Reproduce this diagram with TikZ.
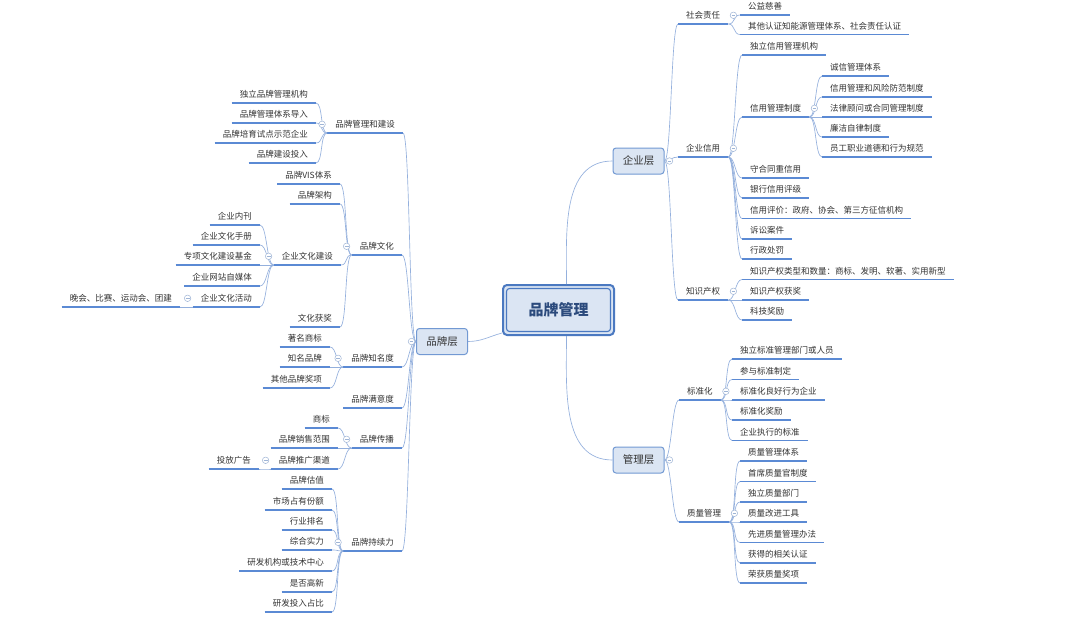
\documentclass[tikz,border=0pt]{standalone}
\usepackage{fontspec}
\newfontfamily\cjk{Noto Sans CJK SC}
\definecolor{txt}{HTML}{333333}
\definecolor{ul}{HTML}{5B8AD4}
\definecolor{cn}{HTML}{94B0DD}
\definecolor{boxfill}{HTML}{DBE5F3}
\definecolor{boxline}{HTML}{7299D3}
\definecolor{rootline}{HTML}{4B79C1}
\definecolor{roottext}{HTML}{2B4A7C}
\definecolor{fc}{HTML}{9FB5D6}
\tikzset{
  uline/.style={draw=ul, line width=1.5pt},
  conn/.style={draw=cn, line width=0.65pt},
  lf/.style={font=\cjk\fontsize{8.5}{10}\selectfont, text=txt, inner xsep=8pt, inner ysep=0pt,
    minimum height=17pt,
    append after command={(\tikzlastnode.south west) edge[uline] (\tikzlastnode.south east)}},
  R/.style={lf, anchor=south west},
  L/.style={lf, anchor=south east},
  layer/.style={font=\cjk\fontsize{10.5}{12}\selectfont, text=txt, draw=boxline, fill=boxfill,
    line width=1pt, rounded corners=3pt, minimum width=51pt, minimum height=26pt, inner sep=0pt},
  rootbox/.style={font=\cjk\bfseries\fontsize{15}{17}\selectfont, text=roottext, draw=rootline, fill=boxfill,
    line width=2pt, rounded corners=4pt, minimum width=111pt, minimum height=50pt, inner sep=0pt},
  fold/.style={circle, draw=fc, fill=white, line width=0.5pt, minimum size=6.5pt, inner sep=0pt,
    path picture={\draw[fc, line width=0.5pt] ([xshift=-1.9pt]path picture bounding box.center) -- ([xshift=1.9pt]path picture bounding box.center);}}
}
\newcommand\cR[2]{\draw[conn] (#1) .. controls +(7,0) and +(-7,0) .. (#2);}
\newcommand\cL[2]{\draw[conn] (#1) .. controls +(-7,0) and +(7,0) .. (#2);}
\begin{document}
\begin{tikzpicture}[x=1pt,y=-1pt]
\useasboundingbox[fill=white] (0,0) rectangle (1080,618);

% root and layers
\node[rootbox] (root) at (558.5,310) {品牌管理};
\draw[rootline, line width=1.1pt, rounded corners=3pt]
  ([shift={(4.5pt,4.5pt)}]root.south west) rectangle ([shift={(-4.5pt,-4.5pt)}]root.north east);
\node[layer] (qy) at (638.5,161) {企业层};
\node[layer] (gl) at (638.5,460) {管理层};
\node[layer] (pp) at (442,341.5) {品牌层};

% ---------- 企业层 ----------
\node[R] (shzr) at (678,24) {社会责任};
\node[R] (qyxy) at (678,157) {企业信用};
\node[R] (zscq) at (678,300) {知识产权};
\node[R] (gycs) at (740,15) {公益慈善};
\node[R] (qtrz) at (740,34.5) {其他认证知能源管理体系、社会责任认证};
\node[R] (dlxy) at (742,55) {独立信用管理机构};
\node[R] (xyzd) at (742,117) {信用管理制度};
\node[R] (cxtx) at (822,76) {诚信管理体系};
\node[R] (fxff) at (822,97) {信用管理和风险防范制度};
\node[R] (flgw) at (822,117) {法律顾问或合同管理制度};
\node[R] (ljzl) at (822,137) {廉洁自律制度};
\node[R] (ygdd) at (822,157) {员工职业道德和行为规范};
\node[R] (shty) at (742,178) {守合同重信用};
\node[R] (yhpj) at (742,198) {银行信用评级};
\node[R] (xypj) at (742,218.5) {信用评价：政府、协会、第三方征信机构};
\node[R] (ssaj) at (742,239) {诉讼案件};
\node[R] (xzcf) at (742,259) {行政处罚};
\node[R] (zslx) at (742,279.5) {知识产权类型和数量：商标、发明、软著、实用新型};
\node[R] (zshj) at (742,300) {知识产权获奖};
\node[R] (kjjl) at (742,320) {科技奖励};

% ---------- 管理层 ----------
\node[R] (bzh) at (679,400) {标准化};
\node[R] (zlgl) at (679,522) {质量管理};
\node[R] (b1) at (732,359) {独立标准管理部门或人员};
\node[R] (b2) at (732,379.5) {参与标准制定};
\node[R] (b3) at (732,400) {标准化良好行为企业};
\node[R] (b4) at (732,420) {标准化奖励};
\node[R] (b5) at (732,440.5) {企业执行的标准};
\node[R] (z1) at (740,461) {质量管理体系};
\node[R] (z2) at (740,481.5) {首席质量官制度};
\node[R] (z3) at (740,502) {独立质量部门};
\node[R] (z4) at (740,522) {质量改进工具};
\node[R] (z5) at (740,542.5) {先进质量管理办法};
\node[R] (z6) at (740,563) {获得的相关认证};
\node[R] (z7) at (740,583) {荣获质量奖项};

% ---------- 品牌层 ----------
\node[L] (ppjs) at (403,133) {品牌管理和建设};
\node[L] (ppwh) at (402,255) {品牌文化};
\node[L] (zmd) at (402,367) {品牌知名度};
\node[L] (myd) at (402,408) {品牌满意度};
\node[L] (ppcb) at (402,448) {品牌传播};
\node[L] (cxl) at (402,551) {品牌持续力};

\node[L] (j1) at (316,103) {独立品牌管理机构};
\node[L] (j2) at (316,123) {品牌管理体系导入};
\node[L] (j3) at (316,143) {品牌培育试点示范企业};
\node[L] (j4) at (316,163) {品牌建设投入};

\node[L] (vis) at (340,184) {品牌VIS体系};
\node[L] (jg) at (340,204) {品牌架构};
\node[L] (qywh) at (341,265) {企业文化建设};
\node[L] (whhj) at (340,327) {文化获奖};
\node[L] (w1) at (260,225) {企业内刊};
\node[L] (w2) at (260,245) {企业文化手册};
\node[L] (w3) at (260,265) {专项文化建设基金};
\node[L] (w4) at (260,286) {企业网站自媒体};
\node[L] (hd) at (260,307) {企业文化活动};
\node[L] (wh) at (180,307) {晚会、比赛、运动会、团建};

\node[L] (m1) at (330,347) {著名商标};
\node[L] (m2) at (330,367) {知名品牌};
\node[L] (m3) at (330,388) {其他品牌奖项};

\node[L] (c1) at (338,428) {商标};
\node[L] (c2) at (338,448) {品牌销售范围};
\node[L] (tg) at (338,469) {品牌推广渠道};
\node[L] (tf) at (259,469) {投放广告};

\node[L] (s1) at (332,489) {品牌估值};
\node[L] (s2) at (332,510) {市场占有份额};
\node[L] (s3) at (332,530) {行业排名};
\node[L] (s4) at (332,550) {综合实力};
\node[L] (s5) at (332,571) {研发机构或技术中心};
\node[L] (s6) at (332,592) {是否高新};
\node[L] (s7) at (332,612) {研发投入占比};

% ---------- connectors ----------
\draw[conn] ([xshift=8pt]root.north) to[out=90,in=180] (qy.west);
\draw[conn] ([xshift=8pt]root.south) to[out=-90,in=180] (gl.west);
\draw[conn] (pp.east) to[out=0,in=195] ([yshift=3pt]root.south west);

\foreach \c in {shzr,qyxy,zscq} {\cR{qy.east}{\c.south west}}
\foreach \c in {gycs,qtrz} {\cR{shzr.south east}{\c.south west}}
\foreach \c in {dlxy,xyzd,shty,yhpj,xypj,ssaj,xzcf} {\cR{qyxy.south east}{\c.south west}}
\foreach \c in {cxtx,fxff,flgw,ljzl,ygdd} {\cR{xyzd.south east}{\c.south west}}
\foreach \c in {zslx,zshj,kjjl} {\cR{zscq.south east}{\c.south west}}
\foreach \c in {bzh,zlgl} {\cR{gl.east}{\c.south west}}
\foreach \c in {b1,b2,b3,b4,b5} {\cR{bzh.south east}{\c.south west}}
\foreach \c in {z1,z2,z3,z4,z5,z6,z7} {\cR{zlgl.south east}{\c.south west}}

\foreach \c in {ppjs,ppwh,zmd,myd,ppcb,cxl} {\cL{pp.west}{\c.south east}}
\foreach \c in {j1,j2,j3,j4} {\cL{ppjs.south west}{\c.south east}}
\foreach \c in {vis,jg,qywh,whhj} {\cL{ppwh.south west}{\c.south east}}
\foreach \c in {w1,w2,w3,w4,hd} {\cL{qywh.south west}{\c.south east}}
\cL{hd.south west}{wh.south east}
\foreach \c in {m1,m2,m3} {\cL{zmd.south west}{\c.south east}}
\foreach \c in {c1,c2,tg} {\cL{ppcb.south west}{\c.south east}}
\cL{tg.south west}{tf.south east}
\foreach \c in {s1,s2,s3,s4,s5,s6,s7} {\cL{cxl.south west}{\c.south east}}

% ---------- fold markers ----------
\node[fold] (fqy) at ([xshift=5pt]qy.east) {};
\node[fold] (fgl) at ([xshift=5pt]gl.east) {};
\node[fold] (fpp) at ([xshift=-4.5pt]pp.west) {};
\foreach \n in {shzr,qyxy,zscq,xyzd,bzh,zlgl} {\node[fold] (f\n) at ([xshift=5pt]\n.east) {};}
\foreach \n in {ppjs,ppwh,qywh,hd,zmd,ppcb,tg,cxl} {\node[fold] (f\n) at ([xshift=-5pt]\n.west) {};}
\end{tikzpicture}
\end{document}
